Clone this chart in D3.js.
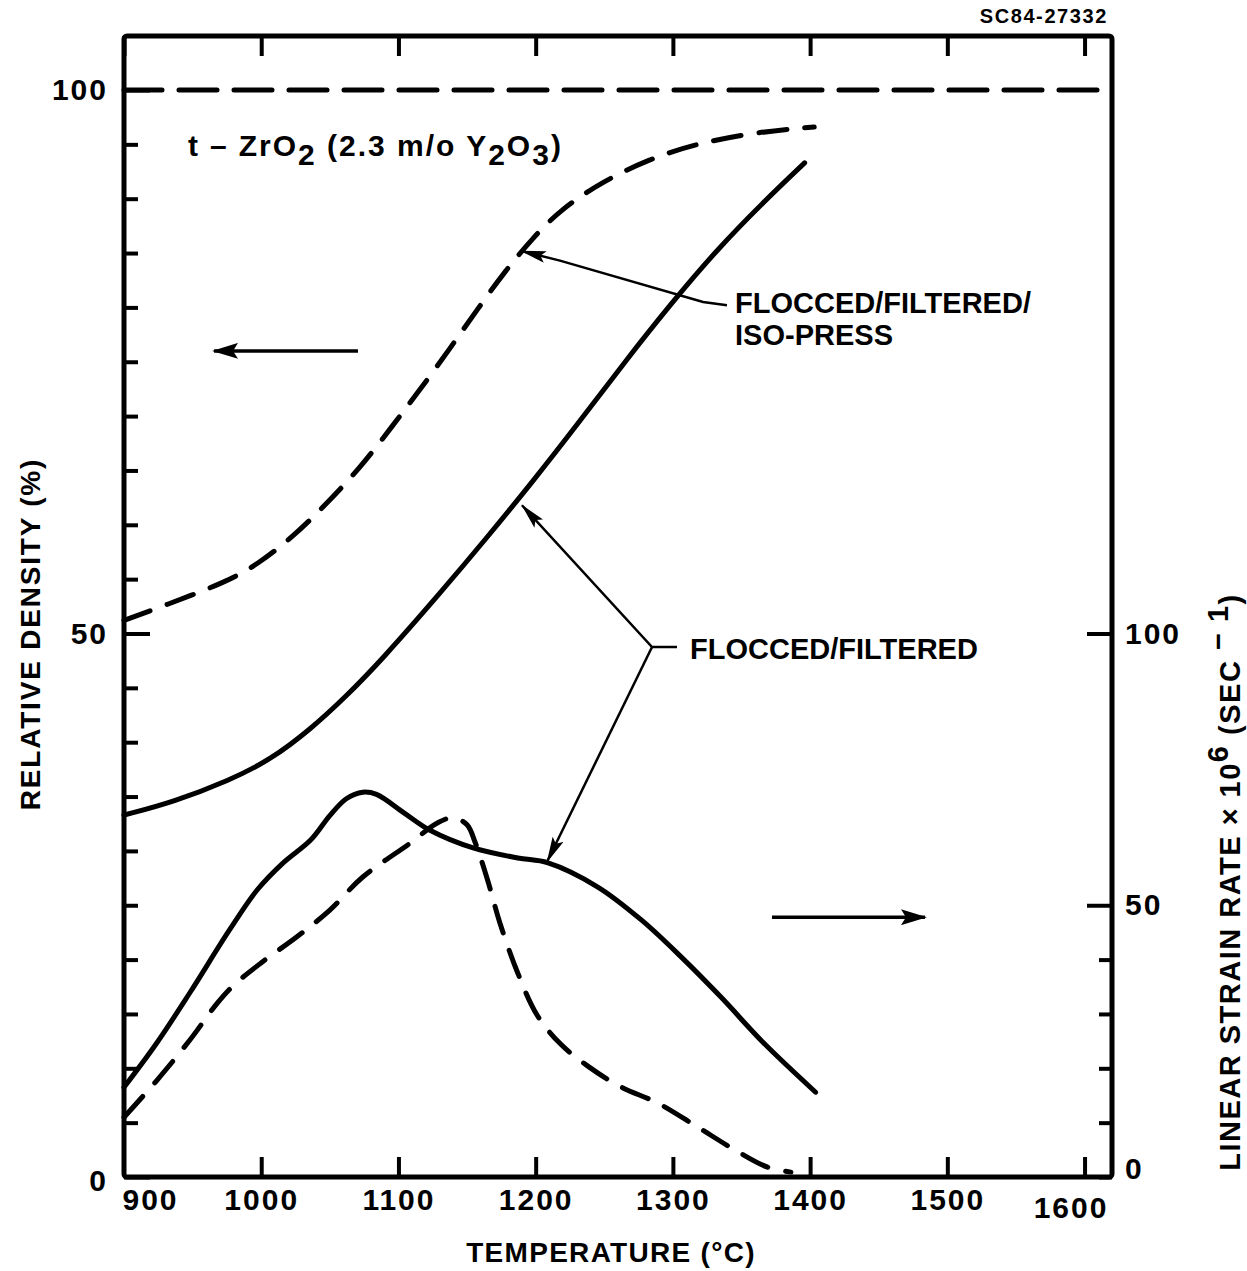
<!DOCTYPE html>
<html>
<head>
<meta charset="utf-8">
<script src="https://cdn.jsdelivr.net/npm/d3@7"></script>
<style>
  body { margin: 0; background: #fff; }
  svg text { font-family: "Liberation Sans", Arial, sans-serif; font-weight: bold; fill: #000; }
</style>
</head>
<body>
<svg id="chart"></svg>
<script>
// relative density (left axis, %) - flocced/filtered/iso-press (dashed)
const isoDensityTemp = [900, 930, 974, 998, 1024, 1045, 1072, 1095, 1115, 1138, 1158, 1178, 1198, 1218, 1249, 1282, 1315, 1359, 1403];
const isoDensity     = [51.2, 52.6, 54.7, 56.4, 59.0, 61.6, 65.2, 69.0, 72.3, 76.3, 79.9, 83.4, 86.4, 89.0, 91.6, 93.6, 95.0, 96.1, 96.6];

// relative density - flocced/filtered (solid)
const flocDensityTemp = [900, 936, 977, 1007, 1036, 1061, 1088, 1131, 1165, 1198, 1232, 1265, 1299, 1332, 1366, 1396];
const flocDensity     = [33.3, 34.5, 36.5, 38.4, 41.2, 44.1, 47.6, 53.8, 58.9, 64.0, 69.5, 75.0, 80.4, 85.3, 89.7, 93.3];

// linear strain rate x 10^6 (right axis) - flocced/filtered (solid)
const flocRateTemp = [900, 924, 948, 977, 997, 1016, 1036, 1050, 1062, 1074, 1084, 1104, 1123, 1155, 1187, 1209, 1245, 1277, 1306, 1335, 1366, 1404];
const flocRate     = [16.5, 24.7, 33.9, 45.5, 52.8, 57.8, 62.0, 66.5, 69.6, 70.8, 70.4, 67.0, 63.8, 60.5, 58.7, 57.8, 53.4, 47.3, 40.5, 33.1, 24.7, 15.6];

// linear strain rate - iso-pressed (dashed)
const isoRateTemp = [900, 924, 948, 968, 980, 1001, 1026, 1050, 1074, 1109, 1128, 1140, 1150, 1156, 1165, 1174, 1187, 1201, 1218, 1238, 1262, 1289, 1318, 1345, 1369, 1386];
const isoRate     = [11.0, 17.8, 25.2, 32.0, 35.3, 39.6, 44.2, 49.1, 55.2, 61.5, 65.1, 66.1, 64.8, 61.5, 54.6, 46.7, 37.5, 29.8, 24.5, 20.4, 16.6, 13.6, 9.2, 5.0, 1.8, 0.9];

const xTicks = [900, 1000, 1100, 1200, 1300, 1400, 1500, 1600];
const leftTicks = d3.range(0, 101, 5);
const leftLabels = [0, 50, 100];
const rightTicks = [0, 10, 20, 30, 40, 50, 100];
const rightLabels = [0, 50, 100];

const width = 1247, height = 1271;
const margin = { top: 36, right: 135, bottom: 94, left: 124 };
const w = width - margin.left - margin.right;
const h = height - margin.top - margin.bottom;

const svg = d3.select("#chart").attr("width", width).attr("height", height);

svg.append("text")
  .attr("x", 1108).attr("y", 23)
  .attr("text-anchor", "end")
  .style("font-size", "20px").style("letter-spacing", "1.6px")
  .text("SC84-27332");

const defs = svg.append("defs");
defs.append("marker")
  .attr("id", "headBig")
  .attr("viewBox", "0 0 26 16").attr("refX", 24).attr("refY", 8)
  .attr("markerWidth", 26).attr("markerHeight", 16)
  .attr("markerUnits", "userSpaceOnUse").attr("orient", "auto")
  .append("path").attr("d", "M0,0 L26,8 L0,16 L5,8 Z").attr("fill", "#000");
defs.append("marker")
  .attr("id", "headSmall")
  .attr("viewBox", "0 0 26 12").attr("refX", 25).attr("refY", 6)
  .attr("markerWidth", 26).attr("markerHeight", 12)
  .attr("markerUnits", "userSpaceOnUse").attr("orient", "auto")
  .append("path").attr("d", "M0,0 L26,6 L0,12 L5,6 Z").attr("fill", "#000");

const g = svg.append("g").attr("transform", `translate(${margin.left},${margin.top})`);

const x = d3.scaleLinear().domain([900, 1620]).range([0, w]);
const yL = d3.scaleLinear().domain([0, 100]).range([h, 54]);
const yR = d3.scaleLinear().domain([0, 200]).range([h, 54]);

// axes
const xAxisG = g.append("g").attr("transform", `translate(0,${h})`)
  .call(d3.axisBottom(x).tickValues(xTicks).tickFormat(d3.format("d"))
    .tickSizeInner(-20).tickSizeOuter(0).tickPadding(12));
const xTopG = g.append("g")
  .call(d3.axisTop(x).tickValues(xTicks).tickSizeInner(-20).tickSizeOuter(0).tickFormat(""));
const yLeftG = g.append("g")
  .call(d3.axisLeft(yL).tickValues(leftTicks).tickSizeInner(-14).tickSizeOuter(0).tickPadding(16)
    .tickFormat(d => leftLabels.includes(d) ? d : ""));
const yRightG = g.append("g").attr("transform", `translate(${w},0)`)
  .call(d3.axisRight(yR).tickValues(rightTicks).tickSizeInner(-13).tickSizeOuter(0).tickPadding(13)
    .tickFormat(d => rightLabels.includes(d) ? d : ""));

[xAxisG, xTopG, yLeftG, yRightG].forEach(a => {
  a.select(".domain").remove();
  a.selectAll(".tick line").attr("stroke", "#000").attr("stroke-width", 4);
  a.selectAll(".tick text")
    .style("font-family", "'Liberation Sans', Arial, sans-serif")
    .style("font-weight", "bold").style("font-size", "30px").style("letter-spacing", "2px")
    .attr("fill", "#000");
});
yLeftG.selectAll(".tick").filter(d => leftLabels.includes(d)).select("line").attr("x2", 26);
yRightG.selectAll(".tick").filter(d => rightLabels.includes(d) && d > 0).select("line").attr("x2", -25);
xAxisG.selectAll(".tick").filter(d => d === 900).select("text").attr("dx", 26);
xAxisG.selectAll(".tick").filter(d => d === 1600).select("text").attr("dx", -14).attr("dy", "0.95em");
xAxisG.selectAll(".tick").filter(d => d === 900).select("line").remove();
yLeftG.selectAll(".tick").filter(d => d === 0).select("text").attr("dy", "0.45em");
yRightG.selectAll(".tick").filter(d => d === 0).select("text").attr("dy", "0.05em");

// frame
g.append("rect")
  .attr("x", 0).attr("y", 0).attr("width", w).attr("height", h).attr("rx", 3)
  .attr("fill", "none").attr("stroke", "#000").attr("stroke-width", 5);

// 100% density reference
g.append("line")
  .attr("x1", x(900)).attr("x2", x(1620)).attr("y1", yL(100)).attr("y2", yL(100))
  .attr("stroke", "#000").attr("stroke-width", 5)
  .attr("stroke-dasharray", "38,17").attr("stroke-linecap", "round");

const zip = (ts, vs) => ts.map((t, i) => ({ t, v: vs[i] }));
const lineL = d3.line().x(d => x(d.t)).y(d => yL(d.v)).curve(d3.curveBasis);
const lineR = d3.line().x(d => x(d.t)).y(d => yR(d.v)).curve(d3.curveCatmullRom.alpha(0.5));

const curves = [
  { data: zip(isoDensityTemp, isoDensity), line: lineL, dash: "28,18" },
  { data: zip(flocDensityTemp, flocDensity), line: lineL, dash: null },
  { data: zip(flocRateTemp, flocRate), line: lineR, dash: null },
  { data: zip(isoRateTemp, isoRate), line: lineR, dash: "28,18" }
];
curves.forEach(c => {
  g.append("path")
    .attr("d", c.line(c.data))
    .attr("fill", "none").attr("stroke", "#000").attr("stroke-width", 5)
    .attr("stroke-linecap", "round").attr("stroke-linejoin", "round")
    .attr("stroke-dasharray", c.dash);
});

// annotations (positions in data units: temperature, left-axis %)
const pt = p => [x(p[0]), yL(p[1])];
const pathOf = pts => d3.line()(pts.map(pt));

// axis direction arrows
g.append("path").attr("d", pathOf([[1070.5, 76.0], [965.6, 76.0]]))
  .attr("stroke", "#000").attr("stroke-width", 3.5).attr("fill", "none").attr("marker-end", "url(#headBig)");
g.append("path").attr("d", pathOf([[1372.2, 23.9], [1483.7, 23.9]]))
  .attr("stroke", "#000").attr("stroke-width", 3.5).attr("fill", "none").attr("marker-end", "url(#headBig)");

// iso-press leader
g.append("path").attr("d", pathOf([[1339.4, 80.2], [1322, 80.5], [1217.7, 84.3], [1189.3, 85.2]]))
  .attr("stroke", "#000").attr("stroke-width", 2.5).attr("fill", "none").attr("marker-end", "url(#headSmall)");

// flocced/filtered leaders
g.append("path").attr("d", pathOf([[1303, 48.76], [1284.8, 48.76], [1190, 61.8]]))
  .attr("stroke", "#000").attr("stroke-width", 2.5).attr("fill", "none").attr("marker-end", "url(#headSmall)");
g.append("path").attr("d", pathOf([[1284.8, 48.76], [1208.3, 29.0]]))
  .attr("stroke", "#000").attr("stroke-width", 2.5).attr("fill", "none").attr("marker-end", "url(#headSmall)");

const annText = (t, v, str) => g.append("text")
  .attr("x", x(t)).attr("y", yL(v))
  .style("font-size", "29px").text(str);
annText(1345.3, 79.5, "FLOCCED/FILTERED/");
annText(1345.3, 76.5, "ISO-PRESS");
annText(1312.5, 47.65, "FLOCCED/FILTERED");

// material label
const mat = g.append("text")
  .attr("x", x(946.6)).attr("y", yL(93.9))
  .style("font-size", "30px").style("letter-spacing", "2px");
mat.append("tspan").text("t");
mat.append("tspan").attr("dx", 10).text("–");
mat.append("tspan").attr("dx", 10).text("ZrO");
mat.append("tspan").attr("dy", 9).text("2");
mat.append("tspan").attr("dy", -9).text(" (2.3 m/o Y");
mat.append("tspan").attr("dy", 9).text("2");
mat.append("tspan").attr("dy", -9).text("O");
mat.append("tspan").attr("dy", 9).text("3");
mat.append("tspan").attr("dy", -9).text(")");

// axis titles
svg.append("text")
  .attr("x", 611).attr("y", 1262).attr("text-anchor", "middle")
  .style("font-size", "28px").style("letter-spacing", "1.3px")
  .text("TEMPERATURE (°C)");

svg.append("text")
  .attr("transform", "translate(40,634) rotate(-90)").attr("text-anchor", "middle")
  .style("font-size", "28px").style("letter-spacing", "1.8px")
  .text("RELATIVE DENSITY (%)");

const rt = svg.append("text")
  .attr("transform", "translate(1240,882) rotate(-90)").attr("text-anchor", "middle")
  .style("font-size", "29px").style("letter-spacing", "1.5px");
rt.append("tspan").text("LINEAR STRAIN RATE × 10");
rt.append("tspan").attr("dy", -12).text("6");
rt.append("tspan").attr("dy", 12).text(" (SEC");
rt.append("tspan").attr("dy", -12).text(" − 1");
rt.append("tspan").attr("dy", 12).text(")");
</script>
</body>
</html>
